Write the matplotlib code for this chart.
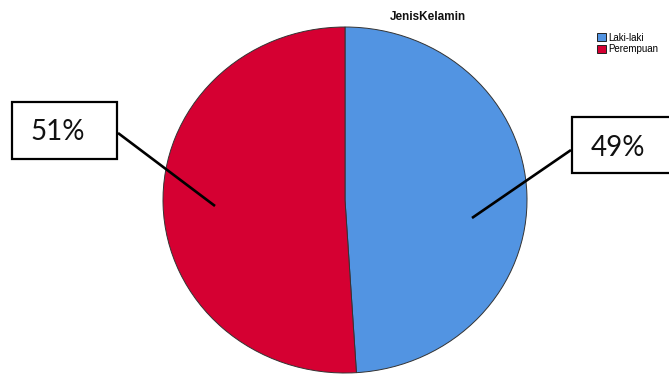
import matplotlib
matplotlib.use("Agg")
import matplotlib.pyplot as plt
from matplotlib.patches import Rectangle

# Data
categories = ["Laki-laki", "Perempuan"]
values = [49, 51]
colors = ["#5294E2", "#D50032"]
title = "JenisKelamin"

W, H = 669, 374
fig = plt.figure(figsize=(W / 100, H / 100), dpi=100)
fig.patch.set_facecolor("white")

# Pie axes (slightly elliptical, as in the reference)
px0, px1, py0, py1 = 163, 527, 27, 373
pax = fig.add_axes([px0 / W, 1 - py1 / H, (px1 - px0) / W, (py1 - py0) / H])
wedges, _ = pax.pie(values, colors=colors, startangle=90, counterclock=False,
                    radius=1.0,
                    wedgeprops=dict(edgecolor="#333333", linewidth=0.7))
pax.set_aspect("auto")
pax.set_xlim(-1.0, 1.0)
pax.set_ylim(-1.0, 1.0)
pax.axis("off")

# Overlay axes in pixel coordinates for callouts
ov = fig.add_axes([0, 0, 1, 1])
ov.set_xlim(0, W)
ov.set_ylim(H, 0)
ov.axis("off")
ov.patch.set_alpha(0)

fig.text(428 / W, 1 - 17 / H, title, ha="center", va="center",
         fontsize=8.5, fontweight="bold", family="Liberation Sans", color="#111111")

# Callout layout: (box x, y, w, h), text centre, line from box to pie
callouts = [
    dict(box=(12, 102, 105, 57), txt=(58, 132), line=((118, 133), (215, 206)), val=values[1]),
    dict(box=(572, 117, 110, 56), txt=(618, 148), line=((571, 150), (472, 218)), val=values[0]),
]
for c in callouts:
    x, y, w, h = c["box"]
    ov.add_patch(Rectangle((x, y), w, h, facecolor="white", edgecolor="black",
                           linewidth=1.6, clip_on=False, zorder=3))
    ov.text(c["txt"][0], c["txt"][1], f"{c['val']}%", ha="center", va="center",
            fontsize=20, family="Lato", color="#111111", zorder=4)
    (a, b), (d, e) = c["line"]
    ov.plot([a, d], [b, e], color="black", linewidth=1.9, zorder=2,
            solid_capstyle="butt")

leg = fig.legend(wedges, categories, loc="upper left",
                 bbox_to_anchor=(590 / W, 1 - 26 / H), frameon=False,
                 handlelength=0.9, handleheight=0.9,
                 handletextpad=0.25, labelspacing=0.12, borderpad=0.2,
                 prop={"family": "Liberation Sans", "size": 7})
for p in leg.get_patches():
    p.set_edgecolor("#222222")
    p.set_linewidth(0.7)

fig.savefig("out.png", dpi=100, facecolor="white")
